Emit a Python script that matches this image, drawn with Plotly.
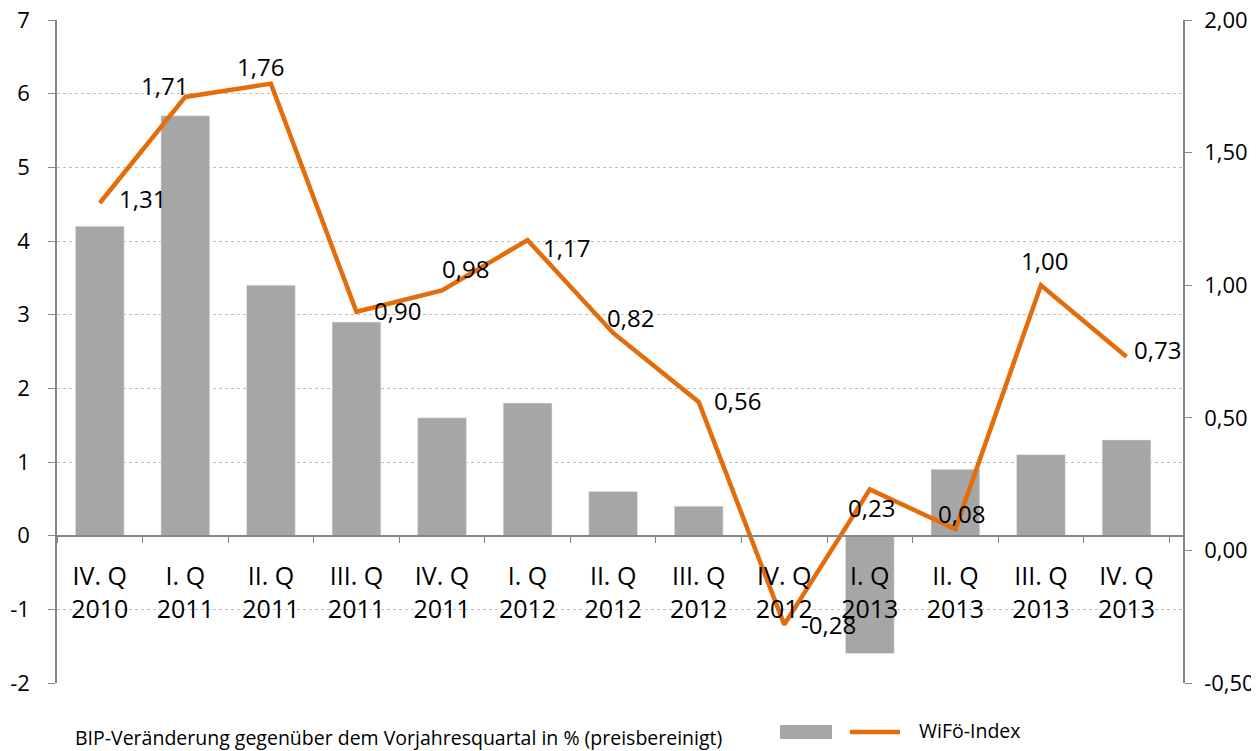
import plotly.graph_objects as go

categories = ["IV. Q<br>2010", "I. Q<br>2011", "II. Q<br>2011", "III. Q<br>2011", "IV. Q<br>2011",
              "I. Q<br>2012", "II. Q<br>2012", "III. Q<br>2012", "IV. Q<br>2012",
              "I. Q<br>2013", "II. Q<br>2013", "III. Q<br>2013", "IV. Q<br>2013"]
bip_change = [4.2, 5.7, 3.4, 2.9, 1.6, 1.8, 0.6, 0.4, 0.0, -1.6, 0.9, 1.1, 1.3]
wifo_index = [1.31, 1.71, 1.76, 0.90, 0.98, 1.17, 0.82, 0.56, -0.28, 0.23, 0.08, 1.00, 0.73]
# label offsets (pixels, screen: dx right, dy down) relative to each point
label_dx = [43, -21, -10, 41, 23, 39, 17, 39, 44, 2, 6, 4, 31]
label_dy = [-4, -11, -17, -1, -22, 7, -15, -1, 0, 18, -16, -25, -7]
left_ticks = [-2, -1, 0, 1, 2, 3, 4, 5, 6, 7]
right_ticks = [-0.5, 0.0, 0.5, 1.0, 1.5, 2.0]

bar_name = "BIP-Veränderung gegenüber dem Vorjahresquartal in % (preisbereinigt)"
line_name = "WiFö-Index"

FONT = "Open Sans"
GRAY = "#a6a6a6"
ORANGE = "#e46c0a"
AXIS = "#868686"

OFF = 8  # default page body margin
W, H = 1259 - OFF, 751 - OFF
pl, pr, pt, pb = 57, 1183, 20, 683  # plot area in screen pixels
ml, mt = pl - OFF, pt - OFF
mr = W - (pr - OFF)
mb = H - (pb - OFF)
pw, ph = pr - pl, pb - pt

def px_x(p):
    return (p - pl) / pw

def px_y(p):
    return (pb - p) / ph

def fmt(v, d):
    return f"{v:.{d}f}".replace(".", ",")

fig = go.Figure()
fig.add_trace(go.Bar(x=categories, y=bip_change, name=bar_name, marker_color=GRAY,
                     width=0.57, showlegend=False, yaxis="y"))
fig.add_trace(go.Scatter(x=categories, y=wifo_index, name=line_name, mode="lines",
                         line=dict(color=ORANGE, width=4.5), yaxis="y2",
                         showlegend=False, cliponaxis=False))

for c, v, dx, dy in zip(categories, wifo_index, label_dx, label_dy):
    fig.add_annotation(x=c, y=v, xref="x", yref="y2", text=fmt(v, 2), showarrow=False,
                       xanchor="center", yanchor="middle", xshift=dx, yshift=-dy,
                       font=dict(family=FONT, size=24, color="#000000"))

ymin, ymax = -2, 7
fig.update_layout(
    width=W, height=H,
    margin=dict(l=ml, r=mr, t=mt, b=mb, autoexpand=False),
    paper_bgcolor="white", plot_bgcolor="white",
    font=dict(family=FONT, size=20, color="#000000"),
    separators=",.",
    showlegend=False,
    xaxis=dict(
        anchor="free", position=(0 - ymin) / (ymax - ymin),
        showline=True, linecolor=AXIS, linewidth=1.5,
        ticks="outside", tickson="boundaries", ticklen=7, tickcolor=AXIS,
        tickfont=dict(family=FONT, size=25),
        ticklabelstandoff=19, automargin=False,
        showgrid=False,
    ),
    yaxis=dict(
        range=[ymin, ymax], tickvals=left_ticks, ticktext=[str(v) for v in left_ticks],
        showline=True, linecolor=AXIS, linewidth=1.5,
        ticks="outside", ticklen=7, tickcolor=AXIS,
        showgrid=True, gridcolor="#bfbfbf", griddash="dot", gridwidth=1,
        zeroline=False, tickfont=dict(family=FONT, size=22),
        ticklabelstandoff=14, automargin=False, ticklabeloverflow="allow",
    ),
    yaxis2=dict(
        range=[-0.5, 2.0], tickvals=right_ticks, ticktext=[fmt(v, 2) for v in right_ticks],
        overlaying="y", side="right",
        showline=True, linecolor=AXIS, linewidth=1.5,
        ticks="outside", ticklen=7, tickcolor=AXIS,
        showgrid=False, zeroline=False, tickfont=dict(family=FONT, size=22),
        ticklabelstandoff=8, automargin=False, ticklabeloverflow="allow",
    ),
)

# legend drawn manually
fig.add_shape(type="rect", xref="paper", yref="paper",
              x0=px_x(780), x1=px_x(832), y0=px_y(725), y1=px_y(739),
              fillcolor=GRAY, line=dict(width=0))
fig.add_shape(type="line", xref="paper", yref="paper",
              x0=px_x(850), x1=px_x(900), y0=px_y(732), y1=px_y(732),
              line=dict(color=ORANGE, width=4.5))
fig.add_annotation(xref="paper", yref="paper", x=px_x(73), y=px_y(737),
                   text=bar_name, showarrow=False, xanchor="left", yanchor="middle",
                   font=dict(family=FONT, size=19.5, color="#000000"))
fig.add_annotation(xref="paper", yref="paper", x=px_x(917), y=px_y(730),
                   text=line_name, showarrow=False, xanchor="left", yanchor="middle",
                   font=dict(family=FONT, size=19.5, color="#000000"))

fig.write_html("out.html")
